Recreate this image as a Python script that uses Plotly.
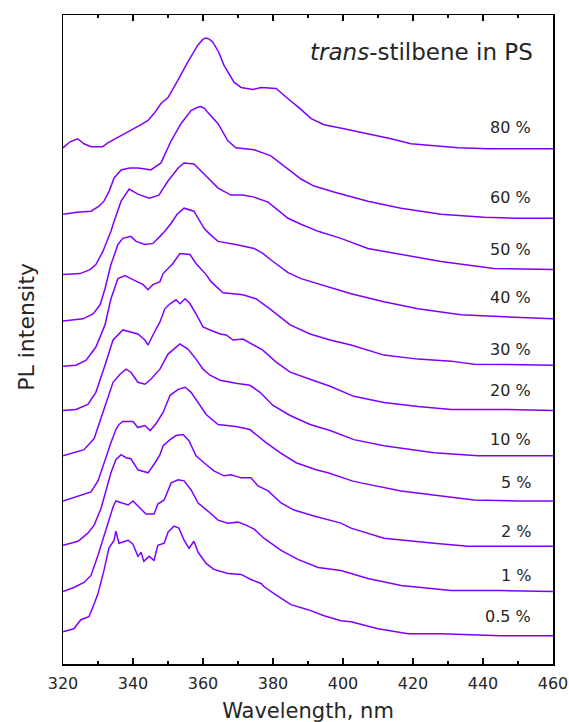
import plotly.graph_objects as go

# ---- data: wavelength (nm) and PL intensity (a.u., vertically stacked) ----
wl_80 = [320.0, 322.0, 324.2, 326.0, 328.0, 331.3, 332.8, 336.6, 339.4, 342.3, 344.2, 346.0, 348.0, 350.0, 352.8, 355.6, 358.5, 360.0, 360.9, 361.8, 362.8, 364.5, 366.0, 368.9, 370.9, 374.2, 376.6, 380.9, 384.2, 387.4, 390.9, 394.6, 400.3, 407.1, 413.7, 419.4, 426.0, 432.9, 441.4, 450.0, 460.0]
pl_80 = [513, 519, 522, 517, 514, 514, 518, 525, 530, 536, 540, 547, 557, 563, 580, 598, 615, 621, 622, 621, 618, 608, 595, 578, 573, 571, 573, 572, 562, 553, 542, 536, 532, 527, 522, 517, 515, 513, 512, 512, 512]

wl_60 = [320.0, 324.0, 328.0, 328.9, 330.3, 331.7, 333.2, 334.6, 336.6, 339.0, 341.4, 343.5, 345.1, 348.0, 350.9, 353.7, 356.6, 358.3, 359.4, 360.5, 361.4, 364.3, 367.1, 369.4, 372.0, 374.6, 379.4, 384.3, 388.0, 391.7, 397.4, 407.1, 416.6, 428.0, 440.3, 450.0, 460.0]
pl_60 = [447, 449, 450, 452, 455, 460, 470, 483, 491, 493, 493, 492, 491, 498, 520, 537, 550, 553, 554, 552, 548, 537, 520, 513, 512, 511, 505, 492, 482, 475, 469, 460, 453, 447, 444, 443, 443]

wl_50 = [320.0, 324.9, 327.7, 329.4, 331.4, 332.9, 333.7, 334.6, 336.6, 338.9, 341.4, 344.6, 347.4, 350.0, 352.9, 354.6, 357.4, 360.3, 364.3, 368.0, 371.4, 374.6, 378.6, 384.3, 388.0, 392.9, 399.4, 407.1, 416.6, 428.0, 443.1, 460.0]
pl_50 = [387, 388, 392, 397, 410, 423, 430, 440, 460, 472, 467, 463, 466, 480, 493, 498, 497, 487, 473, 466, 466, 464, 459, 443, 437, 430, 423, 413, 407, 400, 393, 392]

wl_40 = [320.0, 325.7, 328.6, 330.6, 332.0, 333.7, 335.7, 337.1, 339.4, 340.9, 343.4, 345.7, 347.7, 349.1, 350.9, 352.6, 354.6, 357.4, 360.3, 362.0, 364.3, 369.4, 374.6, 377.1, 380.0, 384.3, 388.0, 393.7, 402.3, 411.7, 421.4, 433.7, 445.1, 460.0]
pl_40 = [341, 343, 348, 357, 373, 397, 417, 423, 425, 420, 417, 418, 425, 430, 438, 447, 453, 450, 433, 427, 420, 417, 413, 408, 400, 389, 383, 377, 368, 360, 353, 347, 345, 343]

wl_30 = [320.0, 323.7, 326.6, 329.4, 332.0, 333.7, 335.7, 337.7, 339.4, 341.4, 342.9, 344.3, 345.7, 347.7, 348.6, 351.4, 353.4, 356.3, 358.0, 360.9, 362.3, 365.7, 371.4, 375.1, 379.1, 384.9, 390.6, 396.3, 402.3, 411.7, 421.4, 430.9, 437.4, 460.0]
pl_30 = [296, 297, 302, 315, 337, 363, 383, 386, 383, 380, 377, 372, 377, 380, 388, 398, 408, 407, 398, 387, 380, 369, 367, 363, 353, 337, 328, 322, 317, 307, 303, 301, 298, 297]

wl_20 = [320.0, 323.7, 327.1, 329.4, 332.0, 334.3, 337.1, 339.1, 341.4, 343.4, 344.3, 345.7, 347.7, 349.1, 350.6, 352.3, 353.4, 354.9, 356.3, 358.0, 360.0, 362.0, 364.9, 366.6, 368.6, 371.4, 374.3, 377.1, 380.9, 384.9, 390.6, 396.3, 403.1, 411.7, 421.4, 430.9, 445.1, 460.0]
pl_20 = [252, 253, 258, 270, 297, 322, 332, 330, 328, 322, 317, 327, 340, 353, 358, 362, 358, 363, 358, 348, 335, 332, 328, 327, 322, 323, 317, 312, 300, 290, 283, 276, 266, 260, 256, 253, 253, 252]

wl_10 = [320.0, 326.0, 328.9, 332.0, 334.3, 336.3, 338.0, 339.4, 341.4, 343.4, 345.1, 347.7, 350.0, 353.4, 355.7, 358.0, 360.0, 362.0, 364.9, 369.4, 373.4, 376.3, 380.0, 384.9, 390.6, 396.3, 403.1, 411.7, 426.0, 438.6, 460.0]
pl_10 = [207, 213, 224, 257, 280, 288, 293, 290, 280, 278, 283, 293, 308, 318, 313, 303, 293, 287, 282, 279, 277, 270, 257, 247, 238, 232, 223, 217, 210, 207, 207]

wl_5 = [320.0, 325.1, 328.0, 330.0, 331.7, 333.7, 335.1, 336.0, 337.1, 340.0, 341.4, 343.4, 344.9, 346.6, 348.6, 350.6, 352.9, 354.9, 356.6, 358.6, 360.9, 364.3, 366.6, 369.4, 373.4, 375.1, 378.0, 382.0, 386.6, 392.3, 395.7, 402.6, 405.1, 416.6, 428.0, 437.4, 450.0, 460.0]
pl_5 = [162, 168, 171, 182, 200, 220, 233, 238, 241, 241, 235, 237, 232, 239, 250, 267, 273, 275, 270, 260, 248, 238, 237, 236, 233, 228, 220, 210, 200, 193, 190, 182, 180, 172, 167, 163, 162, 162]

wl_2 = [320.0, 324.3, 327.1, 328.9, 330.9, 332.3, 333.7, 335.1, 336.6, 338.0, 339.4, 341.4, 344.3, 346.3, 347.7, 348.6, 350.6, 352.3, 354.3, 356.0, 358.0, 360.3, 363.1, 366.0, 368.0, 370.9, 373.7, 375.7, 378.6, 382.3, 386.0, 391.7, 399.4, 402.3, 411.7, 426.0, 435.7, 460.0]
pl_2 = [118, 122, 130, 138, 155, 172, 190, 203, 208, 205, 204, 193, 190, 200, 208, 217, 223, 227, 228, 222, 207, 200, 192, 187, 188, 185, 185, 177, 172, 160, 153, 147, 140, 135, 125, 120, 117, 117]

wl_1 = [320.0, 323.1, 326.0, 328.0, 330.0, 331.7, 333.1, 334.3, 335.1, 337.1, 338.6, 340.0, 341.4, 343.7, 346.0, 347.1, 348.9, 350.9, 352.9, 354.6, 356.6, 358.6, 361.4, 364.3, 367.1, 370.0, 372.3, 374.6, 377.4, 382.3, 387.1, 392.9, 399.4, 407.1, 416.6, 430.9, 445.1, 460.0]
pl_1 = [72, 76, 81, 88, 108, 128, 142, 156, 162, 160, 158, 162, 157, 149, 149, 159, 163, 180, 183, 182, 173, 160, 152, 143, 140, 141, 138, 134, 125, 113, 104, 96, 93, 85, 78, 73, 73, 72]

wl_05 = [320.0, 323.1, 325.1, 327.4, 328.6, 330.0, 331.7, 333.1, 334.6, 335.1, 336.0, 338.6, 340.0, 341.4, 342.3, 343.1, 344.6, 346.0, 347.1, 348.9, 350.0, 351.7, 353.1, 354.6, 356.0, 357.4, 358.6, 360.9, 363.1, 367.1, 370.9, 373.7, 376.6, 377.4, 380.3, 385.1, 390.0, 394.6, 399.4, 402.3, 410.0, 418.6, 428.0, 445.1, 460.0]
pl_05 = [32, 35, 44, 47, 57, 70, 93, 115, 123, 132, 120, 123, 119, 107, 111, 102, 107, 103, 118, 120, 131, 137, 135, 123, 115, 122, 111, 100, 94, 90, 89, 84, 80, 77, 70, 59, 54, 48, 43, 42, 35, 30, 30, 28, 28]

label_text = ["80 %", "60 %", "50 %", "40 %", "30 %", "20 %", "10 %", "5 %", "2 %", "1 %", "0.5 %"]
label_y = [533, 464, 412, 364, 313, 272, 223, 180, 132, 88, 47]

x_ticks = [320, 340, 360, 380, 400, 420, 440, 460]

series = [(wl_80, pl_80), (wl_60, pl_60), (wl_50, pl_50), (wl_40, pl_40), (wl_30, pl_30),
          (wl_20, pl_20), (wl_10, pl_10), (wl_5, pl_5), (wl_2, pl_2), (wl_1, pl_1), (wl_05, pl_05)]

LINE = "#8000ff"
FONT = "DejaVu Sans"
TXT = "#262626"

fig = go.Figure()
for wl, pl in series:
    fig.add_trace(go.Scatter(x=wl, y=pl, mode="lines",
                             line=dict(color=LINE, width=1.5), showlegend=False,
                             hoverinfo="skip"))

for t, yv in zip(label_text, label_y):
    fig.add_annotation(x=454.3, y=yv, xref="x", yref="y", text=t, showarrow=False,
                       xanchor="right", yanchor="middle",
                       font=dict(family=FONT, size=16, color=TXT))

fig.add_annotation(x=454.8, y=608, xref="x", yref="y",
                   text="<i>trans</i>-stilbene in PS", showarrow=False,
                   xanchor="right", yanchor="middle",
                   font=dict(family=FONT, size=23, color=TXT))

# y-axis title placed as a rotated annotation
fig.add_annotation(x=-0.075, y=0.52, xref="paper", yref="paper",
                   text="PL intensity", showarrow=False, textangle=-90,
                   xanchor="center", yanchor="middle",
                   font=dict(family=FONT, size=22, color=TXT))

fig.update_layout(
    width=580, height=730,
    margin=dict(l=63, r=17, t=15, b=65),
    paper_bgcolor="white", plot_bgcolor="white",
    font=dict(family=FONT, color=TXT),
)
fig.update_xaxes(
    range=[320, 460], tickvals=x_ticks, ticktext=[str(v) for v in x_ticks],
    ticks="inside", ticklen=6, tickwidth=1.3, tickcolor="black",
    minor=dict(ticks="inside", ticklen=3, tickwidth=1.3, tickcolor="black", dtick=10, tick0=320),
    showline=True, linecolor="black", linewidth=1.5, mirror="allticks",
    showgrid=False, zeroline=False,
    tickfont=dict(family=FONT, size=16, color=TXT),
    ticklabelstandoff=4,
    title=dict(text="Wavelength, nm", font=dict(family=FONT, size=21, color=TXT), standoff=11),
)
fig.update_yaxes(
    range=[0, 645], showticklabels=False, ticks="",
    showline=True, linecolor="black", linewidth=1.5, mirror=True,
    showgrid=False, zeroline=False,
)

fig.write_html(
    "out.html",
    config={"displayModeBar": False, "staticPlot": True},
    post_script=("document.body.style.margin='0';"
                 "document.body.style.overflow='hidden';"
                 "document.documentElement.style.overflow='hidden';"),
)
